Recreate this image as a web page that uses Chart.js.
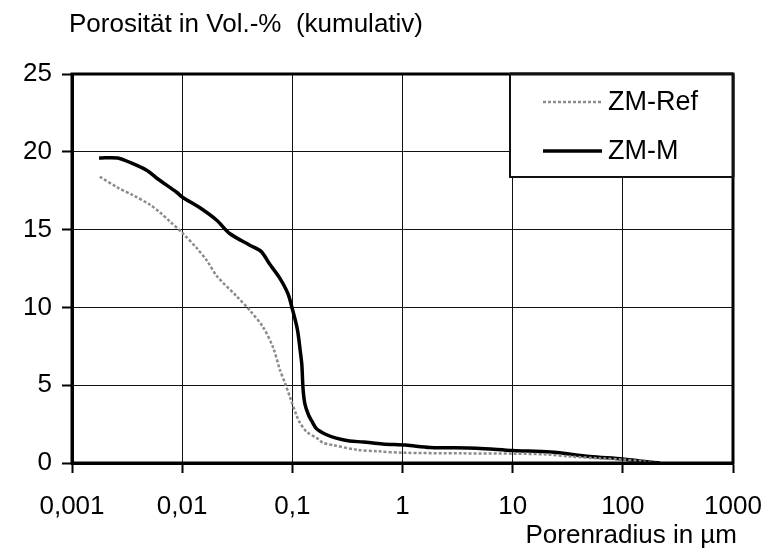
<!DOCTYPE html>
<html>
<head>
<meta charset="utf-8">
<script src="https://cdn.jsdelivr.net/npm/chart.js@4/dist/chart.umd.min.js"></script>
<style>
  html, body { margin: 0; padding: 0; background: #fff; }
  #wrap { width: 772px; height: 555px; }
</style>
</head>
<body>
<div id="wrap"><canvas id="c" width="772" height="555"></canvas></div>
<script>
// ---- data ----
const yTitle = "Porosität in Vol.-%  (kumulativ)";
const xTitle = "Porenradius in µm";
const xTickValues = [0.001, 0.01, 0.1, 1, 10, 100, 1000];
const xTickLabels = ["0,001", "0,01", "0,1", "1", "10", "100", "1000"];
const yTickValues = [0, 5, 10, 15, 20, 25];

const seriesNames = ["ZM-Ref", "ZM-M"];

const refRadius = [0.00179, 0.0026, 0.0036, 0.0051, 0.0063, 0.0078, 0.01, 0.0136, 0.0168, 0.0207, 0.0314,
  0.0412, 0.054, 0.0667, 0.077, 0.0857, 0.095, 0.11, 0.117, 0.135, 0.167, 0.19, 0.234, 0.385, 0.6, 1,
  3.5, 10, 20, 33, 60, 100, 150, 200];
const refPorosity = [18.4, 17.7, 17.2, 16.6, 16.1, 15.5, 14.8, 13.8, 13.0, 12.0, 10.7,
  9.8, 8.75, 7.45, 6.0, 5.15, 4.25, 3.0, 2.6, 2.0, 1.6, 1.3, 1.15, 0.85, 0.75, 0.66,
  0.62, 0.6, 0.55, 0.42, 0.3, 0.22, 0.1, 0];

const mRadius = [0.00176, 0.0026, 0.0034, 0.0048, 0.0059, 0.0089, 0.01, 0.0145, 0.0206, 0.027, 0.041,
  0.052, 0.062, 0.0766, 0.091, 0.1, 0.111, 0.118, 0.122, 0.125, 0.13, 0.14, 0.15, 0.166, 0.2, 0.25,
  0.33, 0.44, 0.66, 1.07, 1.78, 4.7, 10, 22, 50, 100, 141, 217];
const mPorosity = [19.6, 19.6, 19.3, 18.8, 18.3, 17.4, 17.1, 16.4, 15.6, 14.75, 14.0,
  13.6, 12.8, 11.9, 10.9, 9.9, 8.6, 7.2, 6.3, 4.8, 3.8, 3.1, 2.7, 2.2, 1.85, 1.6,
  1.42, 1.35, 1.22, 1.15, 1.0, 0.95, 0.8, 0.7, 0.42, 0.26, 0.13, 0];

const FONT = "'Liberation Sans', Arial, sans-serif";

function toPoints(xs, ys) { return xs.map((x, i) => ({ x: x, y: ys[i] })); }

const framePlugin = {
  id: 'frameAndLegend',
  afterDraw(chart) {
    const ctx = chart.ctx;
    const a = chart.chartArea;
    ctx.save();
    // frame
    ctx.strokeStyle = '#000';
    ctx.lineWidth = 3;
    ctx.strokeRect(a.left, a.top, a.right - a.left, a.bottom - a.top);

    // legend box (top-right inside plot)
    const bw = 223, bh = 103;
    const bx = a.right - bw, by = a.top;
    ctx.fillStyle = '#fff';
    ctx.fillRect(bx, by, bw, bh);
    ctx.lineWidth = 2;
    ctx.strokeStyle = '#111';
    ctx.strokeRect(bx, by, bw, bh);
    ctx.lineWidth = 3;
    ctx.beginPath(); ctx.moveTo(a.right, a.top); ctx.lineTo(a.right, by + bh); ctx.stroke();
    ctx.beginPath(); ctx.moveTo(bx, a.top); ctx.lineTo(a.right, a.top); ctx.stroke();

    const rows = [by + 28, by + 77];
    chart.data.datasets.forEach((ds, i) => {
      const y = rows[i];
      ctx.save();
      ctx.strokeStyle = ds.borderColor;
      ctx.lineWidth = ds.borderWidth;
      ctx.setLineDash(ds.borderDash || []);
      ctx.beginPath();
      ctx.moveTo(bx + 33, y);
      ctx.lineTo(bx + 92, y);
      ctx.stroke();
      ctx.restore();
      ctx.fillStyle = '#000';
      ctx.font = '27px ' + FONT;
      ctx.textBaseline = 'middle';
      ctx.textAlign = 'left';
      ctx.fillText(ds.label, bx + 98, y + 1);
    });

    // titles
    ctx.fillStyle = '#000';
    ctx.font = '26px ' + FONT;
    ctx.textBaseline = 'alphabetic';
    ctx.textAlign = 'left';
    ctx.fillText(yTitle, a.left - 3, 32);
    ctx.textAlign = 'right';
    ctx.fillText(xTitle, a.right + 4, 543);
    ctx.restore();
  }
};

const chart = new Chart(document.getElementById('c'), {
  type: 'line',
  data: {
    datasets: [
      {
        label: seriesNames[0],
        data: toPoints(refRadius, refPorosity),
        borderColor: '#8c8c8c',
        borderWidth: 2.5,
        borderDash: [3, 2],
        pointRadius: 0,
        tension: 0.3,
        fill: false
      },
      {
        label: seriesNames[1],
        data: toPoints(mRadius, mPorosity),
        borderColor: '#000',
        borderWidth: 3.5,
        pointRadius: 0,
        tension: 0.3,
        fill: false
      }
    ]
  },
  options: {
    responsive: false,
    animation: false,
    devicePixelRatio: 1,
    layout: { padding: { top: 74, right: 39, bottom: 0, left: 0 } },
    plugins: {
      legend: { display: false },
      title: { display: false },
      tooltip: { enabled: false }
    },
    scales: {
      x: {
        type: 'logarithmic',
        min: 0.001,
        max: 1000,
        afterBuildTicks(scale) { scale.ticks = xTickValues.map(v => ({ value: v })); },
        afterFit(scale) { scale.height = 92; scale.paddingLeft = 0; scale.paddingRight = 0; },
        ticks: {
          autoSkip: false,
          maxRotation: 0,
          padding: 18,
          color: '#000',
          font: { family: FONT, size: 26 },
          callback(value) {
            const i = xTickValues.findIndex(v => Math.abs(Math.log10(v) - Math.log10(value)) < 1e-6);
            return i >= 0 ? xTickLabels[i] : '';
          }
        },
        grid: { color: '#111', lineWidth: 1, tickLength: 10, tickColor: '#000', tickWidth: 2 },
        border: { color: '#000', width: 3 }
      },
      y: {
        type: 'linear',
        min: 0,
        max: 25,
        afterBuildTicks(scale) { scale.ticks = yTickValues.map(v => ({ value: v })); },
        afterFit(scale) { scale.width = 72; scale.paddingTop = 0; scale.paddingBottom = 0; },
        ticks: {
          padding: 10,
          color: '#000',
          font: { family: FONT, size: 26 }
        },
        grid: { color: '#111', lineWidth: 1, tickLength: 10, tickColor: '#000', tickWidth: 2 },
        border: { color: '#000', width: 3 }
      }
    }
  },
  plugins: [framePlugin]
});
</script>
</body>
</html>
